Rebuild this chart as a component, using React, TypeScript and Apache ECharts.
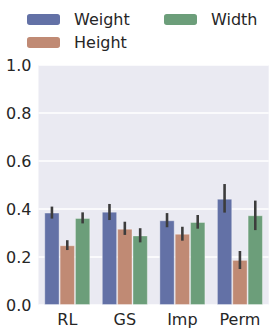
import React, { useEffect, useRef } from "react";
import * as echarts from "echarts";

const categories = ["RL", "GS", "Imp", "Perm"];
const seriesNames = ["Weight", "Height", "Width"];
const weightValues = [0.385, 0.389, 0.353, 0.443];
const heightValues = [0.249, 0.318, 0.297, 0.188];
const widthValues = [0.363, 0.29, 0.346, 0.374];
const weightErr = [[0.36, 0.41], [0.354, 0.421], [0.324, 0.383], [0.385, 0.504]];
const heightErr = [[0.229, 0.27], [0.292, 0.347], [0.268, 0.326], [0.15, 0.225]];
const widthErr = [[0.34, 0.386], [0.261, 0.32], [0.318, 0.375], [0.312, 0.435]];
const yTicks = [0, 0.2, 0.4, 0.6, 0.8, 1.0];

const colors = ["#6371a6", "#c08a74", "#6c9e7a"];
const FONT = "DejaVu Sans";

export default function App() {
  const ref = useRef<HTMLDivElement>(null);
  useEffect(() => {
    const chart = echarts.init(ref.current!, null, { renderer: "svg" });
    const values = [weightValues, heightValues, widthValues];
    const errs = [weightErr, heightErr, widthErr];
    const barSeries = seriesNames.map((name, i) => ({
      name,
      type: "bar",
      data: values[i],
      barGap: "0%",
      barCategoryGap: "20%",
      itemStyle: { color: colors[i], borderColor: "rgba(255,255,255,0.35)", borderWidth: 1 },
    }));
    const errSeries = seriesNames.map((name, i) => ({
      type: "custom",
      name: name + "_err",
      z: 10,
      data: errs[i].map((e, k) => [k, e[0], e[1]]),
      encode: { x: 0, y: [1, 2] },
      renderItem: (params: any, api: any) => {
        const band = api.size([1, 0])[0];
        const bw = (band * 0.8) / 3;
        const off = (i - 1) * bw;
        const lo = api.coord([api.value(0), api.value(1)]);
        const hi = api.coord([api.value(0), api.value(2)]);
        return {
          type: "line",
          shape: { x1: lo[0] + off, y1: lo[1], x2: hi[0] + off, y2: hi[1] },
          style: { stroke: "#3c3c3c", lineWidth: 2.6 },
        };
      },
    }));
    const legendText = { fontFamily: FONT, fontSize: 16, color: "#262626", padding: [0, 0, 0, 9] };
    chart.setOption({
      animation: false,
      textStyle: { fontFamily: FONT },
      legend: [
        {
          orient: "vertical",
          left: 27,
          top: 11.5,
          padding: 0,
          itemWidth: 33,
          itemHeight: 11,
          itemGap: 7,
          data: ["Weight", "Height"],
          textStyle: legendText,
          itemStyle: { borderWidth: 0 },
        },
        {
          orient: "vertical",
          left: 164,
          top: 11.5,
          padding: 0,
          itemWidth: 33,
          itemHeight: 11,
          data: ["Width"],
          textStyle: legendText,
          itemStyle: { borderWidth: 0 },
        },
      ],
      grid: {
        left: 38.5,
        right: 5.3,
        top: 65,
        bottom: 29,
        show: true,
        backgroundColor: "#eaeaf2",
        borderWidth: 0,
      },
      xAxis: {
        type: "category",
        data: categories,
        axisLine: { show: false },
        axisTick: { show: false },
        axisLabel: { fontFamily: FONT, fontSize: 16, color: "#262626", margin: 6 },
      },
      yAxis: {
        type: "value",
        min: yTicks[0],
        max: yTicks[yTicks.length - 1],
        interval: 0.2,
        axisLine: { show: false },
        axisTick: { show: false },
        splitLine: { lineStyle: { color: "#ffffff", width: 1.5 } },
        axisLabel: {
          fontFamily: FONT,
          fontSize: 16,
          color: "#262626",
          margin: 7,
          formatter: (v: number) => v.toFixed(1),
        },
      },
      series: [...barSeries, ...errSeries],
    });
    return () => chart.dispose();
  }, []);
  return (
    <div
      ref={ref}
      style={{ position: "fixed", left: 0, top: 0, width: 274, height: 334, background: "#ffffff" }}
    />
  );
}
